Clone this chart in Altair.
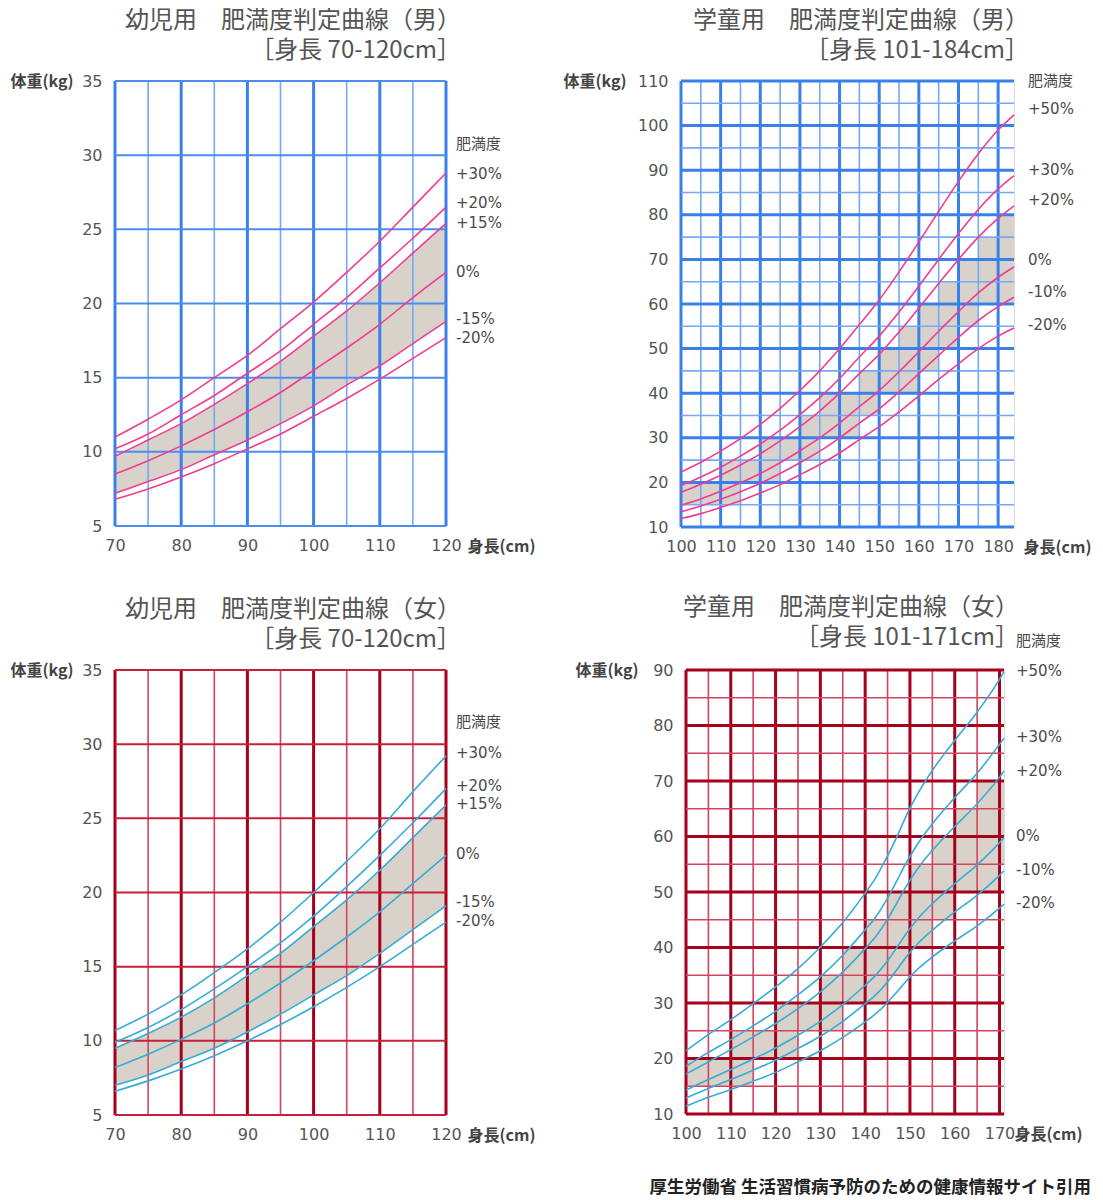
import altair as alt
import pandas as pd

FONT = "Noto Sans CJK JP"
NUMFONT = "DejaVu Sans, Noto Sans CJK JP"

# ---------------- data: infant boys (70-120cm) ----------------
IB_H = [70, 75, 80, 85, 90, 95, 100, 105, 110, 115, 120]
IB_CURVES = {
    "+30%": [11.0, 12.2, 13.5, 15.0, 16.5, 18.3, 20.1, 22.1, 24.2, 26.5, 28.8],
    "+20%": [10.2, 11.2, 12.5, 13.8, 15.3, 16.8, 18.6, 20.4, 22.4, 24.4, 26.5],
    "+15%": [9.7, 10.8, 11.9, 13.2, 14.6, 16.1, 17.8, 19.5, 21.4, 23.4, 25.4],
    "0%":   [8.5, 9.4, 10.4, 11.5, 12.7, 14.0, 15.5, 17.0, 18.6, 20.4, 22.1],
    "-15%": [7.2, 8.0, 8.8, 9.8, 10.8, 11.9, 13.1, 14.5, 15.8, 17.3, 18.8],
    "-20%": [6.8, 7.5, 8.3, 9.2, 10.2, 11.2, 12.4, 13.6, 14.9, 16.3, 17.7],
}
IB_SHADE_HI = IB_CURVES["+15%"]
IB_SHADE_LO = IB_CURVES["-15%"]

# ---------------- data: infant girls (70-120cm) ----------------
GI_H = [70, 75, 80, 85, 90, 95, 100, 105, 110, 115, 120]
GI_CURVES = {
    "+30%": [10.7, 11.8, 13.1, 14.6, 16.2, 18.0, 20.0, 22.1, 24.3, 26.8, 29.2],
    "+20%": [9.9, 10.9, 12.1, 13.5, 15.0, 16.6, 18.4, 20.4, 22.5, 24.7, 27.0],
    "+15%": [9.5, 10.5, 11.6, 12.9, 14.4, 15.9, 17.7, 19.5, 21.5, 23.7, 25.9],
    "0%":   [8.2, 9.1, 10.1, 11.2, 12.5, 13.9, 15.4, 17.0, 18.7, 20.6, 22.5],
    "-15%": [7.0, 7.7, 8.6, 9.5, 10.6, 11.8, 13.1, 14.4, 15.9, 17.5, 19.1],
    "-20%": [6.6, 7.3, 8.1, 9.0, 10.0, 11.1, 12.3, 13.6, 15.0, 16.5, 18.0],
}
GI_SHADE_HI = GI_CURVES["+15%"]
GI_SHADE_LO = GI_CURVES["-15%"]

# ---------------- data: school boys (101-184cm) ----------------
SB_H = [100, 105, 110, 115, 120, 125, 130, 135, 140, 145, 150, 155, 160, 165, 170, 175, 180, 184]
SB_CURVES = {
    "+50%": [22.3, 24.5, 27.0, 29.8, 33.0, 36.6, 40.6, 45.0, 50.0, 55.4, 60.9, 67.2, 73.9, 80.8, 87.5, 93.7, 99.0, 102.4],
    "+30%": [19.3, 21.2, 23.4, 25.9, 28.6, 31.7, 35.2, 39.0, 43.3, 48.1, 52.8, 58.2, 64.0, 70.0, 75.8, 81.2, 85.8, 88.8],
    "+20%": [17.8, 19.6, 21.6, 23.9, 26.4, 29.3, 32.5, 36.0, 40.0, 44.4, 48.7, 53.7, 59.1, 64.6, 70.0, 75.0, 79.2, 82.0],
    "0%":   [14.9, 16.3, 18.0, 19.9, 22.0, 24.4, 27.1, 30.0, 33.3, 37.0, 40.6, 44.8, 49.3, 53.9, 58.3, 62.5, 66.0, 68.3],
    "-10%": [13.4, 14.7, 16.2, 17.9, 19.8, 22.0, 24.4, 27.0, 30.0, 33.3, 36.5, 40.3, 44.4, 48.5, 52.5, 56.3, 59.4, 61.5],
    "-20%": [11.9, 13.0, 14.4, 15.9, 17.6, 19.5, 21.7, 24.0, 26.6, 29.6, 32.5, 35.8, 39.4, 43.1, 46.6, 50.0, 52.8, 54.6],
}
# shaded grid cells, one column per 5cm: [x0, x1] x [lo, hi]
SB_CELL_X0 = [100, 105, 110, 115, 120, 125, 130, 135, 140, 145, 150, 155, 160, 165, 170, 175, 180]
SB_CELL_X1 = [105, 110, 115, 120, 125, 130, 135, 140, 145, 150, 155, 160, 165, 170, 175, 180, 184]
SB_CELL_LO = [15, 15, 15, 20, 20, 25, 25, 30, 30, 35, 40, 40, 45, 50, 55, 60, 60]
SB_CELL_HI = [20, 20, 25, 25, 30, 30, 35, 40, 40, 45, 50, 55, 60, 65, 70, 75, 80]

# ---------------- data: school girls (101-171cm) ----------------
SG_H = [100, 105, 110, 115, 120, 125, 130, 135, 140, 142, 145, 147, 149, 150, 152, 155, 160, 165, 170, 171]
SG_CURVES = {
    "+50%": [21.4, 24.3, 27.0, 29.9, 32.9, 36.2, 40.1, 44.5, 49.8, 52.1, 56.5, 59.8, 63.4, 65.1, 68.1, 71.9, 77.3, 82.4, 88.3, 89.7],
    "+30%": [18.6, 21.1, 23.4, 25.9, 28.5, 31.5, 34.7, 38.6, 43.2, 45.1, 48.9, 51.9, 55.0, 56.4, 59.0, 62.3, 67.0, 71.4, 76.6, 77.7],
    "+20%": [17.2, 19.4, 21.6, 23.9, 26.3, 29.0, 32.0, 35.6, 39.8, 41.6, 45.1, 47.9, 50.8, 52.1, 54.5, 57.5, 61.8, 65.9, 70.7, 71.8],
    "0%":   [14.3, 16.2, 18.0, 19.9, 21.9, 24.2, 26.7, 29.7, 33.2, 34.7, 37.6, 39.9, 42.3, 43.4, 45.4, 47.9, 51.5, 54.9, 58.9, 59.8],
    "-10%": [12.9, 14.6, 16.2, 17.9, 19.7, 21.8, 24.0, 26.7, 29.9, 31.2, 33.8, 35.9, 38.1, 39.1, 40.9, 43.1, 46.4, 49.4, 53.0, 53.8],
    "-20%": [11.4, 13.0, 14.4, 15.9, 17.5, 19.4, 21.4, 23.8, 26.6, 27.8, 30.1, 31.9, 33.8, 34.7, 36.3, 38.3, 41.2, 43.9, 47.1, 47.8],
}
SG_CELL_X0 = [100, 105, 110, 115, 120, 125, 130, 135, 140, 145, 150, 155, 160, 165, 170]
SG_CELL_X1 = [105, 110, 115, 120, 125, 130, 135, 140, 145, 150, 155, 160, 165, 170, 171]
SG_CELL_LO = [15, 15, 15, 20, 20, 25, 25, 30, 30, 35, 40, 45, 50, 50, 55]
SG_CELL_HI = [20, 20, 25, 25, 30, 30, 35, 40, 45, 50, 55, 60, 65, 70, 70]

# ---------------- axes ticks / grid values ----------------
INF_X_TICKS = [70, 80, 90, 100, 110, 120]
INF_Y_TICKS = [5, 10, 15, 20, 25, 30, 35]
INF_X_GRID = [70, 75, 80, 85, 90, 95, 100, 105, 110, 115, 120]
INF_Y_GRID = [5, 10, 15, 20, 25, 30, 35]

SB_X_TICKS = [100, 110, 120, 130, 140, 150, 160, 170, 180]
SB_Y_TICKS = [10, 20, 30, 40, 50, 60, 70, 80, 90, 100, 110]
SB_X_GRID = [100, 105, 110, 115, 120, 125, 130, 135, 140, 145, 150, 155, 160, 165, 170, 175, 180]
SB_Y_GRID = [10, 15, 20, 25, 30, 35, 40, 45, 50, 55, 60, 65, 70, 75, 80, 85, 90, 95, 100, 105, 110]

SG_X_TICKS = [100, 110, 120, 130, 140, 150, 160, 170]
SG_Y_TICKS = [10, 20, 30, 40, 50, 60, 70, 80, 90]
SG_X_GRID = [100, 105, 110, 115, 120, 125, 130, 135, 140, 145, 150, 155, 160, 165, 170]
SG_Y_GRID = [10, 15, 20, 25, 30, 35, 40, 45, 50, 55, 60, 65, 70, 75, 80, 85, 90]

# ---------------- right-hand labels ----------------
IB_LABELS = ["肥満度", "+30%", "+20%", "+15%", "0%", "-15%", "-20%"]
IB_LABEL_KG = [30.75, 28.73, 26.77, 25.42, 22.12, 18.95, 17.67]
GI_LABELS = ["肥満度", "+30%", "+20%", "+15%", "0%", "-15%", "-20%"]
GI_LABEL_KG = [31.49, 29.40, 27.18, 25.96, 22.59, 19.36, 18.08]
SB_LABELS = ["肥満度", "+50%", "+30%", "+20%", "0%", "-10%", "-20%"]
SB_LABEL_KG = [110.0, 103.7, 90.0, 83.3, 69.9, 62.7, 55.3]
SG_LABELS = ["肥満度", "+50%", "+30%", "+20%", "0%", "-10%", "-20%"]
SG_LABEL_KG = [95.2, 89.8, 77.9, 71.8, 60.1, 54.0, 48.0]

FOOTNOTE = "厚生労働省 生活習慣病予防のための健康情報サイト引用"

BLUE = dict(major="#3a80ec", minor="#74a9f4", hline="#4b8cef", curve="#f03c92")
RED = dict(major="#a6001c", minor="#d5445e", hline="#c81f3a", curve="#35acd5")
SHADE = "#d8d2ca"


def scales(xdom, ydom):
    return (alt.Scale(domain=xdom, zero=False, nice=False),
            alt.Scale(domain=ydom, zero=False, nice=False))


def axes(xticks, yticks, ytitle_x, xtitle_x):
    xaxis = alt.Axis(values=xticks, title="身長(cm)", grid=False, domain=False, ticks=False,
                     labelFlush=False, labelOverlap=False, labelPadding=11, labelFontSize=16,
                     labelColor="#555", labelFont=NUMFONT, titleX=xtitle_x, titleY=20,
                     titleAlign="left", titleBaseline="middle", titleFontSize=16,
                     titleFontWeight="bold", titleColor="#444", titleFont=FONT)
    yaxis = alt.Axis(values=yticks, title="体重(kg)", grid=False, domain=False, ticks=False,
                     labelFlush=False, labelOverlap=False, labelPadding=13, labelFontSize=16,
                     labelColor="#555", labelFont=NUMFONT, titleAngle=0, titleX=ytitle_x, titleY=0,
                     titleAlign="right", titleBaseline="middle", titleFontSize=16,
                     titleFontWeight="bold", titleColor="#444", titleFont=FONT)
    return xaxis, yaxis


def band_area(H, hi, lo, xs, ys, xaxis, yaxis):
    df = pd.DataFrame({"H": H, "hi": hi, "lo": lo})
    return alt.Chart(df).mark_area(color=SHADE, interpolate="monotone").encode(
        x=alt.X("H:Q", scale=xs, axis=xaxis),
        y=alt.Y("hi:Q", scale=ys, axis=yaxis),
        y2="lo:Q",
    )


def band_cells(x0, x1, lo, hi, xs, ys, xaxis, yaxis):
    df = pd.DataFrame({"x0": x0, "x1": x1, "lo": lo, "hi": hi})
    return alt.Chart(df).mark_rect(color=SHADE).encode(
        x=alt.X("x0:Q", scale=xs, axis=xaxis), x2="x1:Q",
        y=alt.Y("lo:Q", scale=ys, axis=yaxis), y2="hi:Q",
    )


def panel(H, curves, shade, xdom, xs, ys, xaxis, yaxis, xgrid, ygrid,
          w, h, pal, title, labels, label_kg, label_dx, uniform_h,
          title_offset, extra=None):
    vdf = pd.DataFrame({"v": xgrid})
    vrules = alt.Chart(vdf).mark_rule().encode(
        x=alt.X("v:Q", scale=xs, axis=xaxis),
        color=alt.condition("datum.v % 10 == 0", alt.value(pal["major"]), alt.value(pal["minor"])),
        strokeWidth=alt.condition("datum.v % 10 == 0", alt.value(3), alt.value(1.6)),
    )

    hdf = pd.DataFrame({"v": ygrid})
    if uniform_h:
        hrules = alt.Chart(hdf).mark_rule(color=pal["hline"], strokeWidth=2).encode(
            y=alt.Y("v:Q", scale=ys, axis=yaxis),
        )
    else:
        hrules = alt.Chart(hdf).mark_rule().encode(
            y=alt.Y("v:Q", scale=ys, axis=yaxis),
            color=alt.condition("datum.v % 10 == 0", alt.value(pal["major"]), alt.value(pal["minor"])),
            strokeWidth=alt.condition("datum.v % 10 == 0", alt.value(3), alt.value(1.6)),
        )

    rows = []
    for name, vals in curves.items():
        for hh, ww in zip(H, vals):
            rows.append({"H": hh, "W": ww, "curve": name})
    ldf = pd.DataFrame(rows)
    lines = alt.Chart(ldf).mark_line(color=pal["curve"], strokeWidth=1.6, interpolate="monotone").encode(
        x=alt.X("H:Q", scale=xs, axis=xaxis),
        y=alt.Y("W:Q", scale=ys, axis=yaxis),
        detail="curve:N",
    )

    lab_df = pd.DataFrame({"t": labels, "kg": label_kg, "x": [xdom[1]] * len(labels)})
    labs = alt.Chart(lab_df).mark_text(align="left", baseline="middle", dx=label_dx,
                                       fontSize=15, font=NUMFONT, color="#4a4a4a").encode(
        x=alt.X("x:Q", scale=xs, axis=xaxis),
        y=alt.Y("kg:Q", scale=ys, axis=yaxis),
        text="t:N",
    )

    layers = [shade, vrules, hrules, lines, labs]
    if extra is not None:
        layers.append(extra)

    return alt.layer(*layers).properties(
        width=w, height=h,
        title=alt.TitleParams(text=title, anchor="end", align="right", frame="group", dx=15,
                              fontSize=24, font=FONT, color="#555", fontWeight="normal",
                              lineHeight=30, offset=title_offset),
    )


# ---- top-left: infant boys ----
xs, ys = scales([70, 120], [5, 35])
xa, ya = axes(INF_X_TICKS, INF_Y_TICKS, -42, 352)
tl = panel(IB_H, IB_CURVES, band_area(IB_H, IB_SHADE_HI, IB_SHADE_LO, xs, ys, xa, ya),
           [70, 120], xs, ys, xa, ya, INF_X_GRID, INF_Y_GRID, 331, 445, BLUE,
           ["幼児用　肥満度判定曲線（男）", "［身長 70-120cm］"],
           IB_LABELS, IB_LABEL_KG, 10, True, 10)

# ---- top-right: school boys ----
xs, ys = scales([100, 184], [10, 110])
xa, ya = axes(SB_X_TICKS, SB_Y_TICKS, -55, 342)
tr = panel(SB_H, SB_CURVES, band_cells(SB_CELL_X0, SB_CELL_X1, SB_CELL_LO, SB_CELL_HI, xs, ys, xa, ya),
           [100, 184], xs, ys, xa, ya, SB_X_GRID, SB_Y_GRID, 333, 446, BLUE,
           ["学童用　肥満度判定曲線（男）", "［身長 101-184cm］"],
           SB_LABELS, SB_LABEL_KG, 14, False, 10)

# ---- bottom-left: infant girls ----
xs, ys = scales([70, 120], [5, 35])
xa, ya = axes(INF_X_TICKS, INF_Y_TICKS, -42, 352)
bl = panel(GI_H, GI_CURVES, band_area(GI_H, GI_SHADE_HI, GI_SHADE_LO, xs, ys, xa, ya),
           [70, 120], xs, ys, xa, ya, INF_X_GRID, INF_Y_GRID, 331, 445, RED,
           ["幼児用　肥満度判定曲線（女）", "［身長 70-120cm］"],
           GI_LABELS, GI_LABEL_KG, 10, True, 10)

# ---- bottom-right: school girls ----
xs, ys = scales([100, 171], [10, 90])
xa, ya = axes(SG_X_TICKS, SG_Y_TICKS, -48, 328)
foot = alt.Chart(pd.DataFrame({"t": [FOOTNOTE]})).mark_text(
    align="right", baseline="middle", fontSize=17.5, fontWeight="bold", color="#222", font=FONT
).encode(x=alt.value(405), y=alt.value(518), text="t:N")
br = panel(SG_H, SG_CURVES, band_cells(SG_CELL_X0, SG_CELL_X1, SG_CELL_LO, SG_CELL_HI, xs, ys, xa, ya),
           [100, 171], xs, ys, xa, ya, SG_X_GRID, SG_Y_GRID, 318, 444, RED,
           ["学童用　肥満度判定曲線（女）", "［身長 101-171cm］"],
           SG_LABELS, SG_LABEL_KG, 12, False, -16, extra=foot)

row1 = alt.hconcat(tl, tr, spacing=235, bounds="flush")
row2 = alt.hconcat(bl, br, spacing=240, bounds="flush")
chart = alt.vconcat(row1, row2, spacing=39).properties(
    padding={"left": 1, "top": 0, "right": 2, "bottom": 0}
).configure_view(stroke=None).configure(background="white")

chart.save("out.html", embed_options={"renderer": "svg", "actions": False})
